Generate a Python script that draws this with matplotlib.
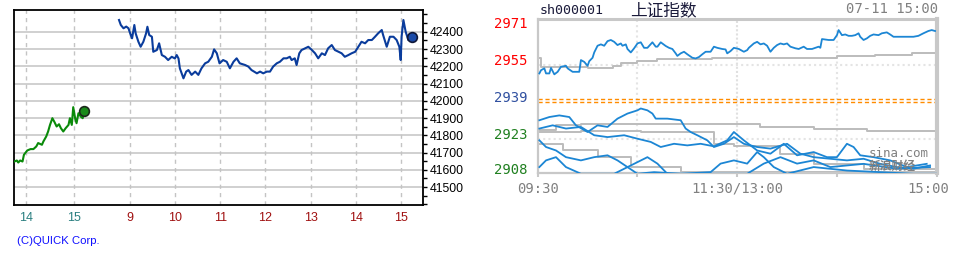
import matplotlib
matplotlib.use("Agg")
import matplotlib.pyplot as plt
from matplotlib.ticker import MultipleLocator
from matplotlib.transforms import ScaledTranslation

plt.rcParams['font.family'] = ['Liberation Sans', 'DejaVu Sans']

#########
# DATA - left chart (QUICK, futures, prev afternoon + today)
#########

# previous session, time in hours
prev_t = [13.75, 13.80, 13.83, 13.87, 13.92, 13.95, 14.02, 14.09, 14.15, 14.21,
          14.25, 14.33, 14.36, 14.42, 14.46, 14.50, 14.55, 14.59, 14.64, 14.69,
          14.73, 14.78, 14.83, 14.89, 14.92, 14.96, 14.99, 15.03, 15.06, 15.10,
          15.15, 15.19, 15.22]
prev_v = [41648, 41654, 41642, 41654, 41648, 41687, 41712, 41720, 41720, 41735,
          41755, 41745, 41764, 41793, 41822, 41860, 41899, 41879, 41851, 41864,
          41841, 41822, 41841, 41860, 41899, 41860, 41963, 41899, 41870, 41928,
          41908, 41899, 41940]

# today session
today_t = [8.75, 8.79, 8.85, 8.91, 8.96, 9.01, 9.04, 9.09, 9.12, 9.18,
           9.23, 9.29, 9.35, 9.38, 9.42, 9.48, 9.51, 9.59, 9.64, 9.70,
           9.77, 9.84, 9.92, 9.99, 10.03, 10.07, 10.10, 10.18, 10.24, 10.29,
           10.36, 10.44, 10.51, 10.58, 10.66, 10.73, 10.81, 10.86, 10.92, 10.98,
           11.06, 11.14, 11.21, 11.29, 11.36, 11.43, 11.55, 11.62, 11.69, 11.81,
           11.88, 11.95, 12.03, 12.10, 12.17, 12.25, 12.32, 12.40, 12.47, 12.54,
           12.58, 12.65, 12.69, 12.75, 12.80, 12.88, 12.95, 13.03, 13.10, 13.17,
           13.25, 13.32, 13.39, 13.47, 13.54, 13.62, 13.69, 13.76, 13.84, 13.91,
           13.99, 14.06, 14.13, 14.21, 14.28, 14.36, 14.43, 14.50, 14.58, 14.61,
           14.69, 14.76, 14.84, 14.91, 14.97, 15.00, 15.02, 15.06, 15.11, 15.17,
           15.24, 15.25]
today_v = [42468, 42439, 42420, 42430, 42420, 42381, 42362, 42439, 42390, 42342,
           42313, 42342, 42390, 42429, 42381, 42371, 42284, 42294, 42333, 42265,
           42255, 42236, 42255, 42245, 42265, 42245, 42188, 42130, 42169, 42178,
           42150, 42169, 42150, 42188, 42217, 42226, 42255, 42298, 42275, 42217,
           42236, 42226, 42188, 42226, 42246, 42217, 42207, 42198, 42178, 42159,
           42169, 42159, 42169, 42169, 42198, 42217, 42226, 42246, 42246, 42255,
           42236, 42246, 42207, 42275, 42294, 42304, 42313, 42294, 42275, 42246,
           42275, 42265, 42304, 42323, 42294, 42284, 42275, 42255, 42265, 42275,
           42284, 42313, 42342, 42333, 42352, 42352, 42371, 42391, 42410, 42381,
           42313, 42371, 42371, 42352, 42313, 42236, 42371, 42468, 42400, 42352,
           42352, 42372]

prev_hours = [14, 15]
today_hours = [9, 10, 11, 12, 13, 14, 15]
price_ticks = [41500, 41600, 41700, 41800, 41900, 42000, 42100, 42200, 42300, 42400]

#########
# DATA - right chart (sina, 上证指数), minutes after 09:30 (lunch removed)
#########

upper_m = [1, 2, 4, 5, 7, 8, 10, 12, 14, 17, 18, 21, 25, 26, 28, 30, 31, 33, 34, 36,
           38, 40, 42, 44, 46, 48, 50, 51, 53, 54, 56, 58, 60, 62, 64, 66, 69, 71, 72, 74,
           77, 79, 81, 83, 84, 86, 88, 90, 93, 95, 97, 99, 101, 104, 106, 108, 111, 113, 114, 116,
           118, 121, 124, 126, 127, 130, 132, 134, 136, 138, 140, 142, 144, 146, 148, 150, 152, 155, 157, 160,
           162, 165, 167, 169, 170, 171, 175, 178, 180, 181, 183, 185, 187, 189, 191, 193, 194, 196, 198, 200,
           202, 205, 207, 210, 212, 214, 218, 222, 226, 229, 232, 235, 237, 239]
upper_v = [2949.1, 2950.5, 2951.3, 2949.1, 2949.1, 2951.5, 2948.7, 2949.8, 2952.0, 2952.4,
           2951.3, 2949.8, 2949.8, 2954.9, 2954.1, 2952.4, 2954.4, 2955.9, 2958.2, 2961.1,
           2961.7, 2961.1, 2963.1, 2963.6, 2962.8, 2961.4, 2962.1, 2961.1, 2961.7, 2959.7,
           2958.2, 2960.0, 2962.1, 2962.6, 2960.2, 2960.2, 2962.6, 2960.7, 2960.7, 2962.6,
           2961.0, 2960.2, 2959.7, 2957.8, 2956.7, 2957.8, 2958.5, 2957.4, 2955.9, 2955.6,
           2956.2, 2957.4, 2958.5, 2958.5, 2960.7, 2960.2, 2959.7, 2959.5, 2957.8, 2958.8,
           2960.2, 2959.7, 2958.5, 2959.2, 2960.2, 2962.1, 2962.8, 2961.7, 2962.1, 2961.1,
           2958.5, 2960.2, 2961.4, 2962.1, 2961.7, 2962.1, 2960.7, 2960.0, 2959.7, 2960.7,
           2959.7, 2959.7, 2960.2, 2960.7, 2960.2, 2964.0, 2963.6, 2963.6, 2965.7, 2967.9,
           2965.7, 2966.0, 2965.4, 2965.4, 2965.7, 2966.5, 2965.0, 2963.6, 2964.3, 2965.4,
           2966.0, 2965.7, 2966.5, 2966.9, 2966.0, 2965.0, 2965.0, 2965.0, 2965.0, 2965.4,
           2966.5, 2967.5, 2967.9, 2967.5]
upper_avg_m = [0, 2, 30, 45, 50, 60, 72, 105, 150, 180, 203, 225, 240]
upper_avg_v = [2955.6, 2952.0, 2951.3, 2952.5, 2953.7, 2954.4, 2955.2, 2955.6, 2956.0,
               2956.7, 2957.3, 2957.8, 2957.8]

low1_m = [1, 7, 13, 19, 23, 30, 36, 42, 48, 54, 60, 62, 66, 69, 71, 78, 86, 89, 92, 96,
          102, 106, 112, 118, 124, 132, 140, 150, 158, 166, 176, 186, 196, 206, 216, 226, 236]
low1_v = [2928.8, 2930.2, 2930.9, 2930.2, 2926.6, 2923.7, 2926.6, 2925.9, 2929.5, 2931.7,
          2933.1, 2933.9, 2933.1, 2931.7, 2929.5, 2929.5, 2928.8, 2925.2, 2923.7, 2922.3,
          2920.1, 2917.2, 2918.6, 2921.5, 2918.6, 2917.2, 2916.5, 2918.6, 2914.3, 2912.8,
          2912.1, 2911.4, 2912.1, 2909.9, 2908.5, 2907.8, 2909.2]
low2_m = [1, 9, 17, 26, 34, 42, 52, 60, 68, 74, 82, 90, 98, 106, 114, 118, 124, 132, 140, 148,
          156, 166, 174, 180, 186, 190, 194, 202, 212, 222, 234]
low2_v = [2925.2, 2926.6, 2925.2, 2925.9, 2922.3, 2921.5, 2922.3, 2920.8, 2919.4, 2917.2,
          2918.6, 2917.9, 2918.6, 2917.5, 2920.1, 2923.7, 2920.1, 2915.7, 2914.3, 2918.6,
          2913.6, 2915.0, 2912.8, 2912.8, 2918.6, 2917.2, 2913.6, 2912.8, 2911.4, 2908.5, 2909.9]
low3_m = [1, 5, 11, 17, 26, 34, 42, 48, 54, 60, 70, 86, 104, 110, 118, 126, 132, 136, 142, 150,
          166, 186, 206, 226, 240]
low3_v = [2920.1, 2917.2, 2915.7, 2912.8, 2911.4, 2912.8, 2913.6, 2911.4, 2908.5, 2905.6,
          2906.3, 2905.6, 2906.3, 2910.0, 2911.4, 2910.0, 2915.0, 2912.8, 2908.5, 2905.6,
          2908.5, 2907.0, 2906.3, 2905.6, 2905.6]
low4_m = [1, 5, 11, 17, 26, 46, 66, 72, 78, 126, 136, 146, 156, 166, 176, 196, 216, 236]
low4_v = [2908.5, 2911.4, 2912.8, 2908.5, 2905.6, 2905.6, 2912.8, 2910.0, 2905.6, 2905.6,
          2910.0, 2912.8, 2910.0, 2911.4, 2908.5, 2909.9, 2907.8, 2908.5]

gray1_m = [0, 11, 26, 62, 104, 134, 166, 198, 240]
gray1_v = [2924.4, 2926.6, 2927.3, 2927.3, 2927.0, 2925.9, 2925.2, 2924.1, 2922.3]
gray2_m = [0, 26, 62, 106, 118, 146, 166, 196, 240]
gray2_v = [2923.6, 2924.0, 2923.7, 2918.6, 2917.5, 2914.3, 2910.0, 2907.8, 2906.3]
gray3_m = [0, 15, 36, 56, 86, 126, 240]
gray3_v = [2918.6, 2915.7, 2912.8, 2908.5, 2906.3, 2906.3, 2906.3]

sina_ticks = [2971, 2955, 2939, 2923, 2908]
sina_tick_colors = ['#ff0000', '#ff0000', '#3050a0', '#208020', '#208020']
prev_close = [2938.2, 2936.8]
sina_grid = [2952.9, 2920.7]

#########
# FIGURE
#########

W, H = 955, 260
fig = plt.figure(figsize=(W / 100, H / 100), dpi=100)

def box(x0, y0, x1, y1):
    return [x0 / W, 1 - y1 / H, (x1 - x0) / W, (y1 - y0) / H]

# ---- left chart
ax = fig.add_axes(box(14, 10, 423, 205))
PREV_W = 47.4 / 45.07    # the previous afternoon is drawn a bit wider
PREV_0 = 0.273
TODAY_0 = 2.580

def prev_x(t):
    return [(v - 14) * PREV_W + PREV_0 for v in t]

def today_x(t):
    return [(v - 9) + TODAY_0 for v in t]

ax.set_xlim(0, 409 / 45.07)
ax.set_ylim(41396, 42526)

for p in price_ticks:
    ax.axhline(p, color='#c4c4c4', lw=1.1, zorder=1)
xt = prev_x(prev_hours) + today_x(today_hours)
for x in xt:
    ax.axvline(x, color='#c4c4c4', lw=1.0, dashes=(3, 3), zorder=1)

ax.plot(prev_x(prev_t), prev_v, color='#0a8a0a', lw=1.5, zorder=3)
ax.plot(today_x(today_t), today_v, color='#0a3c9c', lw=1.5, zorder=3)
ax.plot(prev_x(prev_t[-1:]), prev_v[-1:], 'o', ms=7, mfc='#1a8a1a', mec='#1a2a1a', mew=1.2, zorder=4)
ax.plot(today_x(today_t[-1:]), today_v[-1:], 'o', ms=7, mfc='#1a4aa8', mec='#101838', mew=1.2, zorder=4)

ax.yaxis.tick_right()
ax.set_yticks(price_ticks)
ax.set_yticklabels([str(p) for p in price_ticks])
ax.yaxis.set_minor_locator(MultipleLocator(50))
ax.tick_params(axis='y', which='both', direction='out', length=3, width=1, pad=2, labelsize=8.8, colors='black')
ax.set_xticks(xt)
ax.set_xticklabels([str(h) for h in prev_hours + today_hours])
ax.tick_params(axis='x', length=0, pad=5, labelsize=9)
for i, lab in enumerate(ax.get_xticklabels()):
    lab.set_color('#2a7f80' if i < len(prev_hours) else '#a01010')
for s in ax.spines.values():
    s.set_color('black')
    s.set_linewidth(1.3)

fig.text(17 / W, 1 - 241 / H, '(C)QUICK Corp.', color='#1010ff', fontsize=8.2, va='center', ha='left')

# ---- right chart
MONO = ['DejaVu Sans Mono']
bx = fig.add_axes(box(537.7, 19, 936.7, 173.3))
bx.set_xlim(0, 240)
bx.set_ylim(2905.8, 2972.7)

for x in [60, 180]:
    bx.axvline(x, color='#e4e4e4', lw=1.5, ls=(0, (1, 1.5)), zorder=1)
bx.axvline(120, color='#e0e0e0', lw=1.5, ls=(0, (1, 1)), zorder=1)
for g in sina_grid:
    bx.axhline(g, color='#e4e4e4', lw=1.5, ls=(0, (1, 1.5)), zorder=1)
for pc in prev_close:
    bx.axhline(pc, color='#ff8c00', lw=1.0, dashes=(3, 2), zorder=2)

for gm, gv in [(upper_avg_m, upper_avg_v), (gray1_m, gray1_v), (gray2_m, gray2_v), (gray3_m, gray3_v)]:
    bx.plot(gm, gv, color='#bcbcbc', lw=1.4, drawstyle='steps-post', zorder=2)
for lm, lv in [(upper_m, upper_v), (low1_m, low1_v), (low2_m, low2_v), (low3_m, low3_v), (low4_m, low4_v)]:
    bx.plot(lm, lv, color='#1c86d4', lw=1.3, zorder=3)

bx.set_yticks(sina_ticks)
bx.set_yticklabels([str(v) for v in sina_ticks], family=MONO, fontsize=10)
for lab, c in zip(bx.get_yticklabels(), sina_tick_colors):
    lab.set_color(c)
bx.tick_params(axis='y', length=0, pad=7)
bx.set_xticks([0, 60, 120, 180, 240])
bx.set_xticklabels(['09:30', '', '11:30/13:00', '', '15:00'], family=MONO, fontsize=10, color='#808080')
bx.tick_params(axis='x', direction='out', length=3, width=1.5, color='#c8c8c8', pad=3)
last = bx.get_xticklabels()[-1]
last.set_transform(last.get_transform() + ScaledTranslation(-0.08, 0, fig.dpi_scale_trans))

for side, lw in [('top', 2.2), ('left', 1.6), ('bottom', 1.6), ('right', 3.0)]:
    bx.spines[side].set_color('#c8c8c8')
    bx.spines[side].set_linewidth(lw)

bx.text(0.83, 0.105, 'sina.com', transform=bx.transAxes, family=MONO, fontsize=9, color='#808080', zorder=5)
bx.text(0.83, 0.0, '新浪财经', transform=bx.transAxes, family=['Noto Sans CJK SC'], fontsize=8.5,
        fontweight='bold', color='#808080', va='bottom', zorder=5)

fig.text(540 / W, 1 - 10 / H, 'sh000001', family=MONO, fontsize=9.5, color='#1a1a3a', va='center')
fig.text(630 / W, 1 - 11 / H, '上证指数', family=['Noto Sans CJK SC'], fontsize=12, color='#1a1a3a', va='center')
fig.text(938 / W, 1 - 9 / H, '07-11 15:00', family=MONO, fontsize=10, color='#808080', va='center', ha='right')

fig.savefig('out.png', dpi=100)
